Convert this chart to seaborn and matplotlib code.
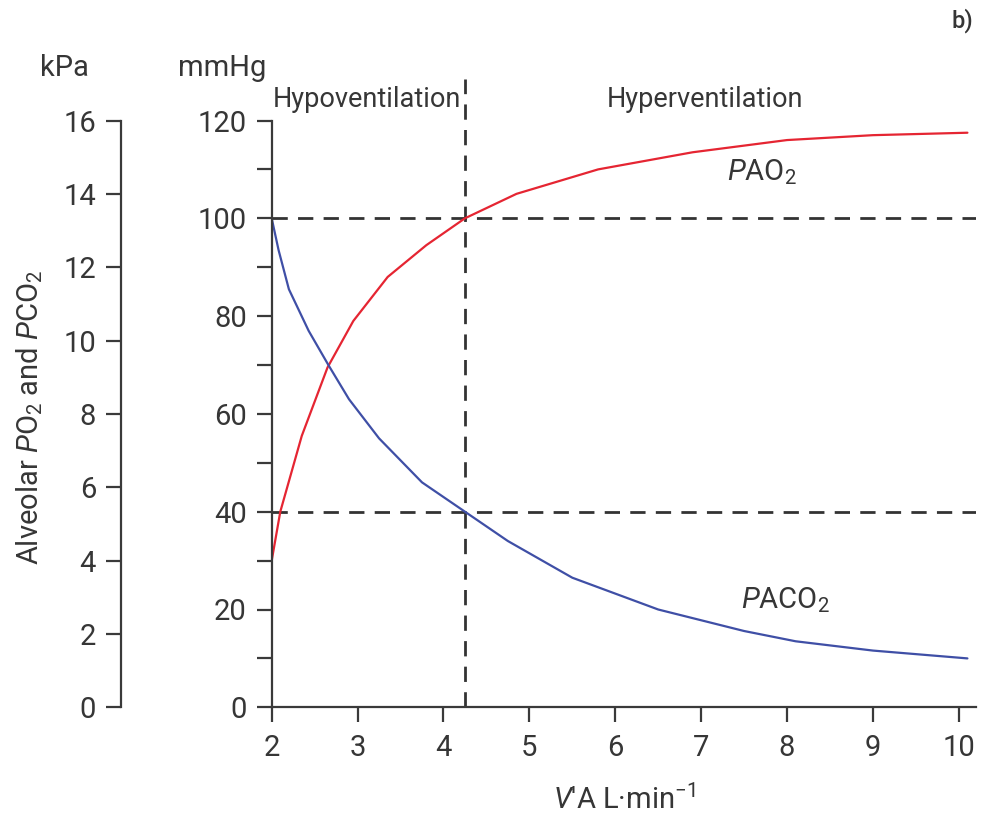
import matplotlib
matplotlib.use("Agg")
import matplotlib.pyplot as plt
import pandas as pd
import seaborn as sns
from matplotlib.ticker import FixedLocator

# Alveolar ventilation (L/min) and the resulting alveolar gas tensions (mmHg)
ventilation_o2 = [2.0, 2.1, 2.35, 2.65, 2.95, 3.35, 3.8, 4.25, 4.85, 5.8, 6.9, 8.0, 9.0, 10.1]
pao2_mmhg = [30, 40, 55.5, 69.5, 79, 88, 94.5, 100, 105, 110, 113.5, 116, 117, 117.5]

ventilation_co2 = [2.0, 2.08, 2.2, 2.43, 2.66, 2.9, 3.25, 3.75, 4.25, 4.75, 5.5, 6.5,
                   7.5, 8.1, 9.0, 10.1]
paco2_mmhg = [100, 93.5, 85.5, 77, 70, 63, 55, 46, 40, 34, 26.5, 20, 15.6, 13.5, 11.6, 10]

normal_ventilation = 4.25          # L/min
reference_levels = [100, 40]       # normal PAO2 and PACO2, mmHg
x_ticks = [2, 3, 4, 5, 6, 7, 8, 9, 10]
mmhg_ticks = [0, 20, 40, 60, 80, 100, 120]
mmhg_minor_ticks = [10, 30, 50, 70, 90, 110]
kpa_ticks = [0, 2, 4, 6, 8, 10, 12, 14, 16]
MMHG_PER_KPA = 7.5

sns.set_theme(style="white")
plt.rcParams["font.family"] = ["Roboto", "DejaVu Sans"]
plt.rcParams["mathtext.fontset"] = "custom"
plt.rcParams["mathtext.rm"] = "Roboto"
plt.rcParams["mathtext.it"] = "Roboto:italic"
plt.rcParams["mathtext.bf"] = "Roboto:bold"

TEXT = "#363636"
AXIS = "#3a3a3a"
RED = "#e52532"
BLUE = "#3f4fa6"
FS = 21

o2 = pd.DataFrame({"ventilation": ventilation_o2, "pressure": pao2_mmhg})
co2 = pd.DataFrame({"ventilation": ventilation_co2, "pressure": paco2_mmhg})

W, H = 981, 819
fig = plt.figure(figsize=(W / 100, H / 100), dpi=100)
left, right, bottom_px, top_px = 271.7, 976, 707.3, 71.6
ax = fig.add_axes([left / W, (H - bottom_px) / H, (right - left) / W, (bottom_px - top_px) / H])
ax.set_facecolor("none")

sns.lineplot(data=o2, x="ventilation", y="pressure", ax=ax, color=RED, lw=1.6,
             estimator=None, sort=False)
sns.lineplot(data=co2, x="ventilation", y="pressure", ax=ax, color=BLUE, lw=1.6,
             estimator=None, sort=False)

dash = dict(color="#333333", lw=2.0, dashes=(5.5, 3.7))
for level in reference_levels:
    ax.axhline(level, **dash, zorder=1)
ax.plot([normal_ventilation, normal_ventilation], [0, 128.5], **dash, zorder=1)

ax.set_xlim(2, 10.2)
ax.set_ylim(0, 130)
for s in ["top", "right"]:
    ax.spines[s].set_visible(False)
for s in ["left", "bottom"]:
    ax.spines[s].set_color(AXIS)
    ax.spines[s].set_linewidth(1.6)
ax.spines["left"].set_bounds(0, 120)
ax.spines["bottom"].set_bounds(2, 10.2)

ax.set_xticks(x_ticks)
ax.set_yticks(mmhg_ticks)
ax.yaxis.set_minor_locator(FixedLocator(mmhg_minor_ticks))
ax.tick_params(axis="both", which="both", direction="out", length=11, width=1.6,
               color=AXIS, labelcolor=TEXT, labelsize=FS)
ax.tick_params(axis="y", which="both", left=True, pad=7)
ax.tick_params(axis="x", bottom=True, pad=8)
ax.set_xlabel("$V$'A L·min$^{-1}$", fontsize=FS, color=TEXT, labelpad=16)
ax.set_ylabel("")

# Second scale in kPa, sharing the same vertical extent
kax_width = 1.0
kax = fig.add_axes([121 / W, (H - bottom_px) / H, kax_width / W, (bottom_px - top_px) / H])
kax.set_facecolor("none")
kax.set_ylim(0, 130 / MMHG_PER_KPA)
for s in ["top", "right", "bottom"]:
    kax.spines[s].set_visible(False)
kax.spines["left"].set_color(AXIS)
kax.spines["left"].set_linewidth(1.6)
kax.spines["left"].set_bounds(0, 16)
kax.set_xticks([])
kax.set_yticks(kpa_ticks)
kax.tick_params(axis="y", direction="out", length=11, width=1.6, color=AXIS,
                labelcolor=TEXT, labelsize=FS, left=True, pad=7)
kax.set_ylabel(r"Alveolar $P$O$_2$ and $P$CO$_2$", fontsize=FS, color=TEXT)
kax.yaxis.set_label_coords((45 - 121) / kax_width,
                           (bottom_px - 417) / (bottom_px - top_px))

fig.text(64 / W, 1 - 68 / H, "kPa", fontsize=FS, color=TEXT, ha="center", va="center")
fig.text(222 / W, 1 - 68 / H, "mmHg", fontsize=FS, color=TEXT, ha="center", va="center")
fig.text(962 / W, 1 - 21 / H, "b)", fontsize=17, color=TEXT, ha="center", va="center",
         fontweight="medium")

ax.text(2.01, 124.2, "Hypoventilation", fontsize=19.5, color=TEXT, ha="left", va="center")
ax.text(5.9, 124.2, "Hyperventilation", fontsize=19.5, color=TEXT, ha="left", va="center")
ax.text(7.3, 109.5, r"$P$AO$_2$", fontsize=FS, color=TEXT, ha="left", va="center")
ax.text(7.46, 22, r"$P$ACO$_2$", fontsize=FS, color=TEXT, ha="left", va="center")

fig.savefig("out.png", dpi=100)
